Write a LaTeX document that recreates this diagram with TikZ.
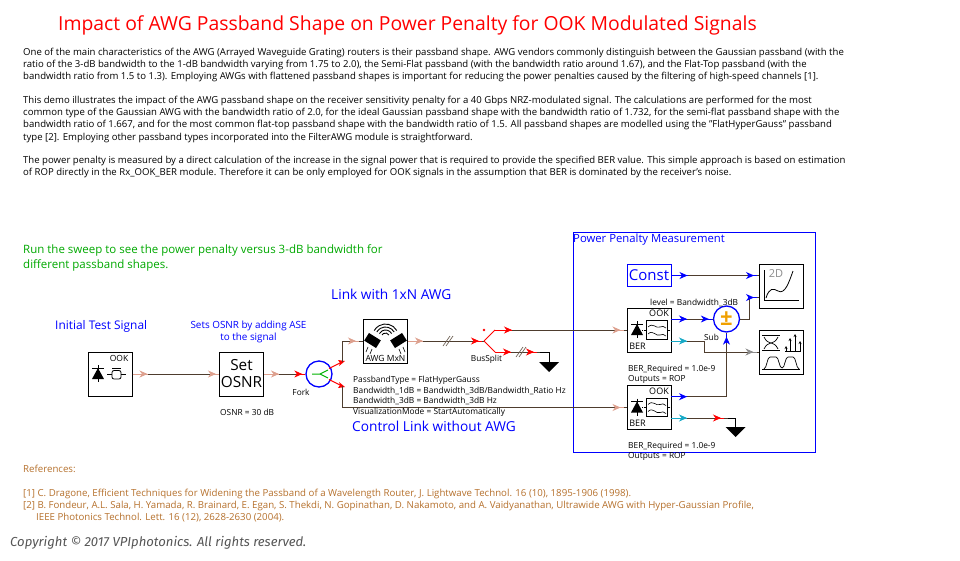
\documentclass[tikz,border=0pt]{standalone}
\usepackage{fontspec}
\setmainfont{Open Sans}
\newfontfamily\copyfont{Fira Sans}
\usetikzlibrary{arrows.meta, positioning, decorations.markings}

\definecolor{wirebrown}{HTML}{4E3D2E}
\definecolor{salmontip}{HTML}{DDA08E}
\definecolor{cyantip}{HTML}{17A9C6}
\definecolor{greytip}{HTML}{8C8C8C}
\definecolor{signgold}{HTML}{F0A000}
\definecolor{sweepgreen}{HTML}{00A800}
\definecolor{refbrown}{HTML}{B5702C}
\definecolor{copygrey}{HTML}{555555}

\tikzset{
  tipOut/.style 2 args={postaction={decorate,decoration={markings,mark=at position #1 with {
    \draw[#2,line width=1pt] (-#1,0pt) -- (0pt,0pt); \arrow[color=#2]{Stealth[length=8pt,width=7pt,inset=2.5pt]}}}}},
  tipIn/.style 2 args={postaction={decorate,decoration={markings,mark=at position #1 with {
    \draw[#2,line width=1pt] (-6pt,0pt) -- (3pt,0pt); \arrow[color=#2]{Stealth[length=8pt,width=7pt,inset=2.5pt]}}}}},
  busMark/.style={postaction={decorate,decoration={markings,mark=at position #1 with {
    \draw[wirebrown!80,line width=.7pt] (-4pt,-5pt) -- (3pt,5pt) (-1pt,-5pt) -- (6pt,5pt);}}}},
  diode/.pic={
    \draw[line width=.8pt] (0,-9) -- (0,8) (-6,-6) -- (6,-6);
    \fill (0,-6) -- (-6,5) -- (6,5) -- cycle;},
  filterIcon/.pic={
    \draw[line width=.8pt] (-3,-9.5) rectangle (18.5,9);
    \draw[line width=.6pt] (-1,-3) .. controls (4,-8) and (7,-1) .. (11,-3) .. controls (13,-4) and (15,-4) .. (17,-2);
    \draw[line width=.6pt] (-1,4) .. controls (4,-1) and (7,7) .. (11,5) .. controls (13,4) and (15,4) .. (17,6);
    \draw[line width=.6pt,densely dotted] (-7,0) -- (-3,0) (18.5,0) -- (22,0);},
  groundMark/.pic={\fill (-10,0) -- (10,0) -- (0,10) -- cycle;}
}

\begin{document}
\begin{tikzpicture}[x=1pt,y=-1pt,
  wire/.style={draw=wirebrown,line width=.9pt},
  redWire/.style={draw=red,line width=1pt},
  block/.style={draw,line width=1pt,minimum width=44pt,minimum height=44pt,inner sep=0pt},
  tinyText/.style={font=\fontsize{8.35}{10.7}\selectfont,inner sep=0pt,anchor=west,align=left},
  blueText/.style={text=blue,inner sep=0pt,anchor=west},
  sumCircle/.style={draw=blue,circle,line width=1.3pt,minimum size=26pt,inner sep=0pt}]
\useasboundingbox (0,0) rectangle (960,560);

% heading and notes
\node (heading) [text=red,inner sep=0pt,anchor=west,font=\fontsize{19.36}{24}\selectfont] at (58,25)
  {Impact of AWG Passband Shape on Power Penalty for OOK Modulated Signals};
\node (intro) [inner sep=0pt,anchor=north west,align=left,font=\fontsize{9.58}{12}\selectfont] at (23,47.9)
  {One of the main characteristics of the AWG (Arrayed Waveguide Grating) routers is their passband shape. AWG vendors commonly distinguish between the Gaussian passband (with the\\
   ratio of the 3-dB bandwidth to the 1-dB bandwidth varying from 1.75 to 2.0), the Semi-Flat passband (with the bandwidth ratio around 1.67), and the Flat-Top passband (with the\\
   bandwidth ratio from 1.5 to 1.3). Employing AWGs with flattened passband shapes is important for reducing the power penalties caused by the filtering of high-speed channels [1].\\[12pt]
   This demo illustrates the impact of the AWG passband shape on the receiver sensitivity penalty for a 40 Gbps NRZ-modulated signal. The calculations are performed for the most\\
   common type of the Gaussian AWG with the bandwidth ratio of 2.0, for the ideal Gaussian passband shape with the bandwidth ratio of 1.732, for the semi-flat passband shape with the\\
   bandwidth ratio of 1.667, and for the most common flat-top passband shape with the bandwidth ratio of 1.5. All passband shapes are modelled using the "FlatHyperGauss" passband\\[1pt]
   type [2]. Employing other passband types incorporated into the FilterAWG module is straightforward.\\[11.5pt]
   The power penalty is measured by a direct calculation of the increase in the signal power that is required to provide the specified BER value. This simple approach is based on estimation\\
   of ROP directly in the Rx\_OOK\_BER module. Therefore it can be only employed for OOK signals in the assumption that BER is dominated by the receiver's noise.};
\node (sweep) [text=sweepgreen,inner sep=0pt,anchor=north west,align=left,font=\fontsize{11.5}{15}\selectfont] at (23,244)
  {Run the sweep to see the power penalty versus 3-dB bandwidth for\\different passband shapes.};
\node (refs) [text=refbrown,inner sep=0pt,anchor=north west,align=left,font=\fontsize{9.68}{12.4}\selectfont] at (23,464.5)
  {References:\\[11.6pt]
   {[1]} C. Dragone, Efficient Techniques for Widening the Passband of a Wavelength Router, J. Lightwave Technol. 16 (10), 1895-1906 (1998).\\
   {[2]} B. Fondeur, A.L. Sala, H. Yamada, R. Brainard, E. Egan, S. Thekdi, N. Gopinathan, D. Nakamoto, and A. Vaidyanathan, Ultrawide AWG with Hyper-Gaussian Profile,\\
   \hspace*{13pt}IEEE Photonics Technol. Lett. 16 (12), 2628-2630 (2004).};
\node (copyright) [text=copygrey,inner sep=0pt,anchor=west,font=\copyfont\itshape\fontsize{13.1}{15}\selectfont] at (10,543)
  {Copyright © 2017 VPIphotonics. All rights reserved.};

% frame
\node (measureFrame) [draw=blue,line width=1pt,minimum width=242pt,minimum height=220pt,inner sep=0pt] at (694,342) {};
\node (measureTitle) [blueText,font=\fontsize{11.3}{13}\selectfont] at (573,239.5) {Power Penalty Measurement};

% blocks
\node (source) [block] at (110,374) {};
\node (sourceKind) [inner sep=0pt,font=\fontsize{8.5}{10}\selectfont] at (119,358) {OOK};
\node (setOsnr) [block,align=center,font=\fontsize{15.3}{18}\selectfont] at (241.5,374) {Set\\[-1pt]OSNR};
\node (fork) [sumCircle] at (319,374) {};
\node (awg) [block] at (385.5,341) {};
\node (awgName) [inner sep=0pt,font=\fontsize{8.5}{10}\selectfont] at (385.5,358) {AWG MxN};
\node (berOne) [block] at (649,330) {};
\node (berOneKind) [inner sep=0pt,font=\fontsize{9}{10}\selectfont] at (659,313.5) {OOK};
\node (berOneName) [inner sep=0pt,font=\fontsize{9}{10}\selectfont] at (637.5,346) {BER};
\node (berTwo) [block] at (649,407.5) {};
\node (berTwoKind) [inner sep=0pt,font=\fontsize{9}{10}\selectfont] at (659,391) {OOK};
\node (berTwoName) [inner sep=0pt,font=\fontsize{9}{10}\selectfont] at (637.5,423.5) {BER};
\node (constBlock) [block,draw=blue,text=blue,minimum height=22pt,font=\fontsize{15}{18}\selectfont] at (649,275.5) {Const};
\node (sub) [sumCircle,text=signgold,font=\bfseries\fontsize{22}{22}\selectfont] at (726.5,319) {±};
\node (plotBlock) [block] at (781,286) {};
\node (analyzer) [block] at (781,352) {};

% points on the way
\coordinate (forkUp) at (342,362);
\coordinate (forkDown) at (342,386);
\coordinate (busSplit) at (484,341);
\coordinate (splitUp) at (495,330);
\coordinate (splitDown) at (495,352);
\coordinate (busEnd) at (540,352);
\coordinate (groundOne) at (549,362);
\coordinate (berOneA) at (671,319);
\coordinate (berOneB) at (671,341);
\coordinate (berTwoA) at (671,396.7);
\coordinate (berTwoB) at (671,418);
\coordinate (ropEnd) at (728,418);
\coordinate (groundTwo) at (735.7,427);
\coordinate (plotTop) at (759,275.5);
\coordinate (plotLow) at (759,297.5);
\coordinate (subOut) at (749.5,319);

% connectors
\draw[wire,tipOut={15pt}{salmontip},tipIn={-3pt}{salmontip}] (source.east) -- (setOsnr.west);
\draw[wire,tipOut={15pt}{salmontip},tipIn={-3pt}{red}] (setOsnr.east) -- (fork.west);
\draw[redWire] (fork) ++(10,-5.5) -- (forkUp);
\draw[redWire] (fork) ++(10,5.5) -- (forkDown);
\fill[red] (forkUp) ++(3,-1) -- ++(-7,-1) -- ++(2,3) -- ++(-1,3) -- cycle;
\fill[red] (forkDown) ++(3,1) -- ++(-7,1) -- ++(2,-3) -- ++(-1,-3) -- cycle;
\draw[wire,tipIn={-7pt}{salmontip}] (forkUp) |- (awg.west);
\draw[wire,tipIn={-6pt}{salmontip}] (forkDown) |- (berTwo.west);
\draw[wire,tipOut={15pt}{salmontip},busMark=39pt,tipIn={-5pt}{red}] (awg.east) -- (busSplit);
\draw[redWire] (busSplit) -- (splitUp);
\draw[redWire] (busSplit) -- (splitDown);
\draw[wire,tipOut={17pt}{red},tipIn={-6pt}{salmontip}] (splitUp) -- (berOne.west);
\draw[wire,tipOut={16pt}{red},busMark=25pt,tipIn={39pt}{red}] (splitDown) -- (busEnd);
\draw[line width=.9pt] (busEnd) -| (groundOne);
\draw[wire,tipOut={16pt}{blue},tipIn={-4pt}{blue}] (berOneA) -- (sub.west);
\draw[wire,tipOut={16pt}{cyantip},tipIn={-5pt}{greytip}] (berOneB) -| (704.6,352) -- (analyzer.west);
\draw[wire,tipOut={16pt}{blue},tipIn={-4pt}{blue}] (berTwoA) -| (sub.south);
\draw[wire,tipOut={16pt}{cyantip},tipIn={50pt}{red}] (berTwoB) -- (ropEnd);
\draw[line width=.9pt] (ropEnd) -| (groundTwo);
\draw[wire,tipOut={16pt}{blue},tipIn={-5pt}{blue}] (constBlock.east) -- (plotTop);
\draw[wire,tipOut={13pt}{blue}] (sub.east) -- (subOut);
\draw[wire,tipIn={-5pt}{blue}] (subOut) |- (plotLow);

% labels
\node (startNote) [blueText,font=\fontsize{11.9}{14}\selectfont] at (55,326) {Initial Test Signal};
\node (osnrNote) [text=blue,inner sep=0pt,align=center,font=\fontsize{9.9}{12}\selectfont] at (248.5,332) {Sets OSNR by adding ASE\\to the signal};
\node (linkNote) [blueText,font=\fontsize{13.7}{16}\selectfont] at (331,294) {Link with 1xN AWG};
\node (controlNote) [blueText,font=\fontsize{13.7}{16}\selectfont] at (352,426) {Control Link without AWG};
\node (forkName) [inner sep=0pt,font=\fontsize{8.3}{10}\selectfont] at (301,392) {Fork};
\node (osnrValue) [tinyText] at (220,412) {OSNR = 30 dB};
\node (awgParams) [tinyText,anchor=north west] at (353,376) {PassbandType = FlatHyperGauss\\Bandwidth\_1dB = Bandwidth\_3dB/Bandwidth\_Ratio Hz\\Bandwidth\_3dB = Bandwidth\_3dB Hz\\VisualizationMode = StartAutomatically};
\node (splitName) [inner sep=0pt,font=\fontsize{8.3}{10}\selectfont] at (486.5,359) {BusSplit};
\node (levelNote) [tinyText] at (650,303) {level = Bandwidth\_3dB};
\node (subName) [inner sep=0pt,font=\fontsize{8.3}{10}\selectfont] at (711.5,337) {Sub};
\node (berOneParams) [tinyText,anchor=north west] at (628,364.5) {BER\_Required = 1.0e-9\\Outputs = ROP};
\node (berTwoParams) [tinyText,anchor=north west] at (628,441.5) {BER\_Required = 1.0e-9\\Outputs = ROP};

% icons
\fill[red] (484,330) circle (1.3);
\draw[green!70!black,line width=1pt] (312,374) -- (320,374) -- (328,370) (320,374) -- (328,378);
\pic at (groundOne) {groundMark};
\pic at (groundTwo) {groundMark};
\pic at (98,374) {diode};
\draw[line width=.8pt,rounded corners=2pt] (112,370.5) rectangle (121,379);
\draw[line width=1.5pt] (112,368.5) -- (121,368.5);
\draw[line width=.7pt] (107,374) -- (112,374) (121,374) -- (126,374);
\pic at (637,330) {diode};
\pic at (649,330) {filterIcon};
\pic at (637,407.5) {diode};
\pic at (649,407.5) {filterIcon};
% AWG picture
\foreach \r in {4,7,10,13}
  \draw[line width=.9pt] ([shift={(30:\r pt)}]385.5,337) arc (30:150:\r pt);
\fill[rotate around={-32:(372.5,340.5)}] (365.5,336) rectangle (379.5,345);
\fill[rotate around={32:(398.5,340.5)}] (391.5,336) rectangle (405.5,345);
\draw[line width=.6pt] (368,347) -- (366,352) (372,349) -- (370,354) (403,347) -- (405,352) (399,349) -- (401,354);
% 2D picture
\draw[line width=.8pt] (764,270) -- (764,300) -- (799,300);
\node (plotTag) [text=greytip,inner sep=0pt,font=\fontsize{11}{12}\selectfont] at (776,273.5) {2D};
\draw[line width=.8pt] (766,298) .. controls (769,288) and (773,288) .. (778,291) .. controls (785,295) and (789,282) .. (793,271);
% analyzer picture
\draw[line width=.7pt] (762,335) -- (780,335) (762,350) -- (780,350);
\draw[line width=.7pt] (764,337) .. controls (768,345) and (774,345) .. (778,337) (764,349) .. controls (768,341) and (774,341) .. (778,349);
\draw[line width=.7pt] (785,351.5) -- (800,351.5);
\foreach \xpeak/\ypeak in {786/346,790/338,795/334,800/341}
  \draw[-{Stealth[length=3pt,width=3pt]},line width=.6pt] (\xpeak,351.5) -- (\xpeak,\ypeak);
\draw[line width=.7pt] (762,369) -- (800,369);
\draw[line width=.7pt] (764,369) .. controls (767,368) and (767,357) .. (770,357) -- (776,357) .. controls (779,357) and (779,368) .. (782,368) .. controls (785,368) and (785,357) .. (788,357) -- (793,357) .. controls (796,357) and (796,368) .. (799,369);
\end{tikzpicture}
\end{document}
